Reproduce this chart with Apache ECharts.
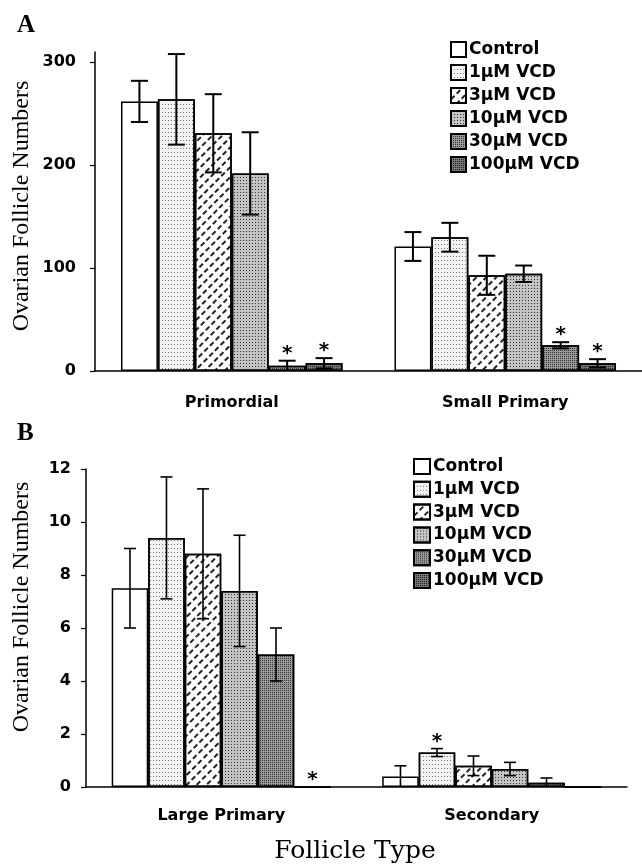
<!DOCTYPE html>
<html>
<head>
<meta charset="utf-8">
<script src="https://cdn.jsdelivr.net/npm/echarts@6/dist/echarts.min.js"></script>
<style>
  html, body { margin: 0; padding: 0; background: #fff; }
  #chart { width: 642px; height: 866px; }
</style>
</head>
<body>
<div id="chart"></div>
<script>
// treatment groups (legend)
const treatments = ["Control", "1µM VCD", "3µM VCD", "10µM VCD", "30µM VCD", "100µM VCD"];

// panel A
const typesA = ["Primordial", "Small Primary"];
const primordialMean = [262, 264, 231, 192, 5, 7.5];
const primordialErr = [20, 44, 38, 40, 5, 5];
const primordialStar = [0, 0, 0, 0, 1, 1];
const smallPrimaryMean = [121, 130, 93, 94.5, 25, 7.5];
const smallPrimaryErr = [14, 14, 19, 8, 3, 4];
const smallPrimaryStar = [0, 0, 0, 0, 1, 1];
const ticksA = [0, 100, 200, 300];

// panel B
const typesB = ["Large Primary", "Secondary"];
const largePrimaryMean = [7.5, 9.4, 8.8, 7.4, 5.0, 0];
const largePrimaryErr = [1.5, 2.3, 2.45, 2.1, 1.0, 0];
const largePrimaryStar = [0, 0, 0, 0, 0, 1];
const secondaryMean = [0.4, 1.3, 0.8, 0.68, 0.16, 0];
const secondaryErr = [0.4, 0.15, 0.37, 0.25, 0.18, 0];
const secondaryStar = [0, 1, 0, 0, 0, 0];
const ticksB = [0, 2, 4, 6, 8, 10, 12];

const GAP = 0.19;
const SANS = "DejaVu Sans";
const SERIF = "Liberation Serif";

// fill textures for the six groups
const fills = [
  { color: "#ffffff" },
  { color: "#f2f2f2", decal: { symbol: "rect", symbolSize: 1, dashArrayX: [1, 2], dashArrayY: [1, 2.5], color: "#777" } },
  { color: "#ffffff", decal: { symbol: "rect", symbolSize: 1, dashArrayX: [5, 3], dashArrayY: [1.2, 5], rotation: -Math.PI / 4, color: "#222" } },
  { color: "#c4c4c4", decal: { symbol: "rect", symbolSize: 1, dashArrayX: [1, 1.6], dashArrayY: [1, 1.4], color: "#333" } },
  { color: "#9a9a9a", decal: { symbol: "rect", symbolSize: 1, dashArrayX: [1, 1], dashArrayY: [1, 1], color: "#333" } },
  { color: "#777777", decal: { symbol: "rect", symbolSize: 1, dashArrayX: [1, 1], dashArrayY: [1, 1], color: "#222" } },
];

const chart = echarts.init(document.getElementById("chart"));

const barSeries = (gridIdx, meansByType) =>
  treatments.map((name, i) => ({
    name,
    type: "bar",
    xAxisIndex: gridIdx,
    yAxisIndex: gridIdx,
    barGap: "0%",
    barCategoryGap: GAP * 100 + "%",
    data: meansByType.map((m) => m[i]),
    itemStyle: Object.assign({ borderColor: "#000", borderWidth: 1.5 }, fills[i]),
    emphasis: { disabled: true },
  }));

const errData = (meansByType, errsByType, starsByType) => {
  const out = [];
  meansByType.forEach((means, c) => {
    means.forEach((m, s) => {
      out.push([c, s, m, errsByType[c][s], starsByType[c][s]]);
    });
  });
  return out;
};

const makeErrRender = (capHalf, lw) => (params, api) => {
  const cat = api.value(0);
  const s = api.value(1);
  const mean = api.value(2);
  const err = api.value(3);
  const star = api.value(4);
  const base = api.coord([cat, 0]);
  const band = api.size([1, 0])[0];
  const bw = (band * (1 - GAP)) / 6;
  const x = base[0] + (s - 2.5) * bw;
  const yTop = api.coord([cat, mean + err])[1];
  const low = mean - err;
  const yBot = api.coord([cat, Math.max(low, 0)])[1];
  const style = { stroke: "#000", lineWidth: lw };
  const children = [];
  if (err > 0) {
    children.push({ type: "line", shape: { x1: x, y1: yTop, x2: x, y2: yBot }, style });
    children.push({ type: "line", shape: { x1: x - capHalf, y1: yTop, x2: x + capHalf, y2: yTop }, style });
    if (low > 0) {
      children.push({ type: "line", shape: { x1: x - capHalf, y1: yBot, x2: x + capHalf, y2: yBot }, style });
    }
  }
  if (star) {
    children.push({
      type: "text",
      x: x,
      y: yTop - 7,
      style: { text: "*", font: "bold 20px '" + SANS + "'", fill: "#000", textAlign: "center", textVerticalAlign: "middle" },
    });
  }
  return { type: "group", children };
};

const legendBase = {
  orient: "vertical",
  icon: "rect",
  itemWidth: 15,
  itemHeight: 15,
  itemGap: 6,
  selectedMode: false,
  textStyle: { fontFamily: SANS, fontWeight: "bold", fontSize: 17, color: "#000", padding: [0, 0, 0, -2] },
  data: treatments,
};

const valueAxis = (gridIndex, max, interval, ticks, margin) => ({
  type: "value",
  gridIndex,
  min: 0,
  max,
  interval,
  axisLine: { show: true, lineStyle: { color: "#000", width: 1.5 } },
  axisTick: { show: true, length: 5, customValues: ticks, lineStyle: { color: "#000", width: 1.2 } },
  axisLabel: { customValues: ticks, margin, fontFamily: SANS, fontWeight: "bold", fontSize: 16, color: "#000" },
  splitLine: { show: false },
});

const catAxis = (gridIndex, data, margin) => ({
  type: "category",
  gridIndex,
  data,
  axisLine: { lineStyle: { color: "#000", width: 1.5 } },
  axisTick: { show: false },
  axisLabel: { margin, fontFamily: SANS, fontWeight: "bold", fontSize: 16, color: "#000" },
});

chart.setOption({
  animation: false,
  backgroundColor: "#fff",
  grid: [
    { left: 95, top: 52, width: 548, height: 319 },
    { left: 86, top: 469, width: 541, height: 318 },
  ],
  xAxis: [catAxis(0, typesA, 24), catAxis(1, typesB, 21)],
  yAxis: [valueAxis(0, 310, 100, ticksA, 19), valueAxis(1, 12, 2, ticksB, 15)],
  legend: [
    Object.assign({}, legendBase, { left: 445, top: 36, itemGap: 6 }),
    Object.assign({}, legendBase, { left: 408, top: 453, itemWidth: 16, itemGap: 5.8 }),
  ],
  graphic: [
    { type: "text", left: 17, top: 13, style: { text: "A", font: "bold 25px '" + SERIF + "'", fill: "#000" } },
    { type: "text", left: 17, top: 421, style: { text: "B", font: "bold 25px '" + SERIF + "'", fill: "#000" } },
    {
      type: "text", x: 22, y: 206, rotation: Math.PI / 2,
      style: { text: "Ovarian Follicle Numbers", font: "24px '" + SERIF + "'", fill: "#000", textAlign: "center", textVerticalAlign: "middle" },
    },
    {
      type: "text", x: 22, y: 607, rotation: Math.PI / 2,
      style: { text: "Ovarian Follicle Numbers", font: "24px '" + SERIF + "'", fill: "#000", textAlign: "center", textVerticalAlign: "middle" },
    },
    {
      type: "text", x: 355, y: 851,
      style: { text: "Follicle Type", font: "25px 'DejaVu Serif'", fill: "#000", textAlign: "center", textVerticalAlign: "middle" },
    },
  ],
  series: [
    ...barSeries(0, [primordialMean, smallPrimaryMean]),
    ...barSeries(1, [largePrimaryMean, secondaryMean]),
    {
      type: "custom",
      xAxisIndex: 0,
      yAxisIndex: 0,
      z: 5,
      silent: true,
      renderItem: makeErrRender(8.5, 2),
      data: errData([primordialMean, smallPrimaryMean], [primordialErr, smallPrimaryErr], [primordialStar, smallPrimaryStar]),
    },
    {
      type: "custom",
      xAxisIndex: 1,
      yAxisIndex: 1,
      z: 5,
      silent: true,
      renderItem: makeErrRender(6, 1.6),
      data: errData([largePrimaryMean, secondaryMean], [largePrimaryErr, secondaryErr], [largePrimaryStar, secondaryStar]),
    },
  ],
});
</script>
</body>
</html>
